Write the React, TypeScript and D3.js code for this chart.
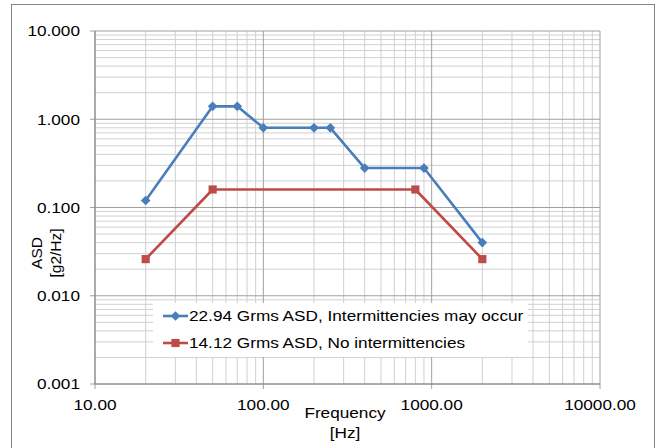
import React from "react";
import * as d3 from "d3";

const blueFreq = [20, 50, 70, 100, 200, 250, 400, 900, 2000];
const blueAsd = [0.12, 1.4, 1.4, 0.8, 0.8, 0.8, 0.28, 0.28, 0.04];
const redFreq = [20, 50, 800, 2000];
const redAsd = [0.026, 0.16, 0.16, 0.026];
const seriesNames = [
  "22.94 Grms ASD, Intermittencies may occur",
  "14.12 Grms ASD, No intermittencies",
];
const xTicks = [10, 100, 1000, 10000];
const yTicks = [0.001, 0.01, 0.1, 1, 10];

const W = 660;
const H = 448;
const L = 95, R = 600, T = 31, B = 384;
const FONT = "'Liberation Sans', Arial, sans-serif";
const BLUE = "#4a7ebb";
const RED = "#be4b48";
const FS = 15.5;
const SX = 1.11;

function T2({ x, y, anchor, children, dy }: { x: number; y: number; anchor?: string; children: React.ReactNode; dy?: string }) {
  return (
    <text transform={`translate(${x},${y}) scale(${SX},1)`} textAnchor={anchor || "start"} dy={dy} fontSize={FS} fill="#000">
      {children}
    </text>
  );
}

export default function App() {
  const x = d3.scaleLog().domain([10, 10000]).range([L, R]);
  const y = d3.scaleLog().domain([0.001, 10]).range([B, T]);

  const minorX: number[] = [];
  for (let d = 10; d < 10000; d *= 10) for (let k = 2; k <= 9; k++) minorX.push(d * k);
  const minorY: number[] = [];
  for (let d = 0.001; d < 10; d *= 10) for (let k = 2; k <= 9; k++) minorY.push(d * k);

  const line = d3
    .line<[number, number]>()
    .x((d) => x(d[0]))
    .y((d) => y(d[1]));
  const bluePts: [number, number][] = blueFreq.map((f, i) => [f, blueAsd[i]]);
  const redPts: [number, number][] = redFreq.map((f, i) => [f, redAsd[i]]);
  const diamond = d3.symbol().type(d3.symbolDiamond2).size(60)();
  const square = d3.symbol().type(d3.symbolSquare2).size(85)();

  const legX = 153, legY = 303, legW = 375, legH = 54;

  return (
    <svg width={W} height={H} style={{ position: "absolute", left: 0, top: 0 }} fontFamily={FONT}>
      <rect x={0} y={0} width={W} height={H} fill="#fff" />
      <rect x={11.5} y={4.5} width={643} height={460} fill="#fff" stroke="#868686" />
      {minorX.map((v) => (
        <line key={"mx" + v} x1={x(v)} x2={x(v)} y1={T} y2={B} stroke="#d0d0d0" strokeWidth={1} />
      ))}
      {minorY.map((v, i) => (
        <line key={"my" + i} x1={L} x2={R} y1={y(v)} y2={y(v)} stroke="#d0d0d0" strokeWidth={1} />
      ))}
      {xTicks.map((v) => (
        <line key={"gx" + v} x1={x(v)} x2={x(v)} y1={T} y2={B + 5} stroke="#a0a0a0" strokeWidth={1} />
      ))}
      {yTicks.map((v) => (
        <line key={"gy" + v} x1={L - 5} x2={R} y1={y(v)} y2={y(v)} stroke="#a0a0a0" strokeWidth={1} />
      ))}
      <line x1={L} x2={L} y1={T} y2={B} stroke="#868686" />
      <line x1={L} x2={R} y1={B} y2={B} stroke="#868686" />
      {yTicks.map((v) => (
        <T2 key={"ty" + v} x={L - 15} y={y(v)} dy="0.35em" anchor="end">
          {v.toFixed(3)}
        </T2>
      ))}
      {xTicks.map((v) => (
        <T2 key={"tx" + v} x={x(v)} y={B + 26} anchor="middle">
          {v.toFixed(2)}
        </T2>
      ))}
      <text transform={`translate(42,253) rotate(-90)`} textAnchor="middle" fontSize={FS}>
        <tspan x={0} dy={0}>ASD</tspan>
        <tspan x={0} dy={19}>[g2/Hz]</tspan>
      </text>
      <T2 x={345} y={418} anchor="middle">Frequency</T2>
      <T2 x={345} y={438} anchor="middle">[Hz]</T2>
      <path d={line(bluePts) || ""} fill="none" stroke={BLUE} strokeWidth={2.6} strokeLinejoin="round" />
      {bluePts.map((p, i) => (
        <path key={"bp" + i} d={diamond || ""} transform={`translate(${x(p[0])},${y(p[1])})`} fill={BLUE} />
      ))}
      <path d={line(redPts) || ""} fill="none" stroke={RED} strokeWidth={2.6} strokeLinejoin="round" />
      {redPts.map((p, i) => (
        <path key={"rp" + i} d={square || ""} transform={`translate(${x(p[0])},${y(p[1])})`} fill={RED} />
      ))}
      <rect x={legX} y={legY} width={legW} height={legH} fill="#fff" />
      {[BLUE, RED].map((c, i) => (
        <g key={"lg" + i} transform={`translate(0,${316 + i * 27})`}>
          <line x1={163} x2={188} y1={0} y2={0} stroke={c} strokeWidth={2.6} />
          <path d={(i === 0 ? diamond : square) || ""} transform="translate(175.5,0)" fill={c} />
          <T2 x={189} y={0} dy="0.35em">
            {seriesNames[i]}
          </T2>
        </g>
      ))}
    </svg>
  );
}
